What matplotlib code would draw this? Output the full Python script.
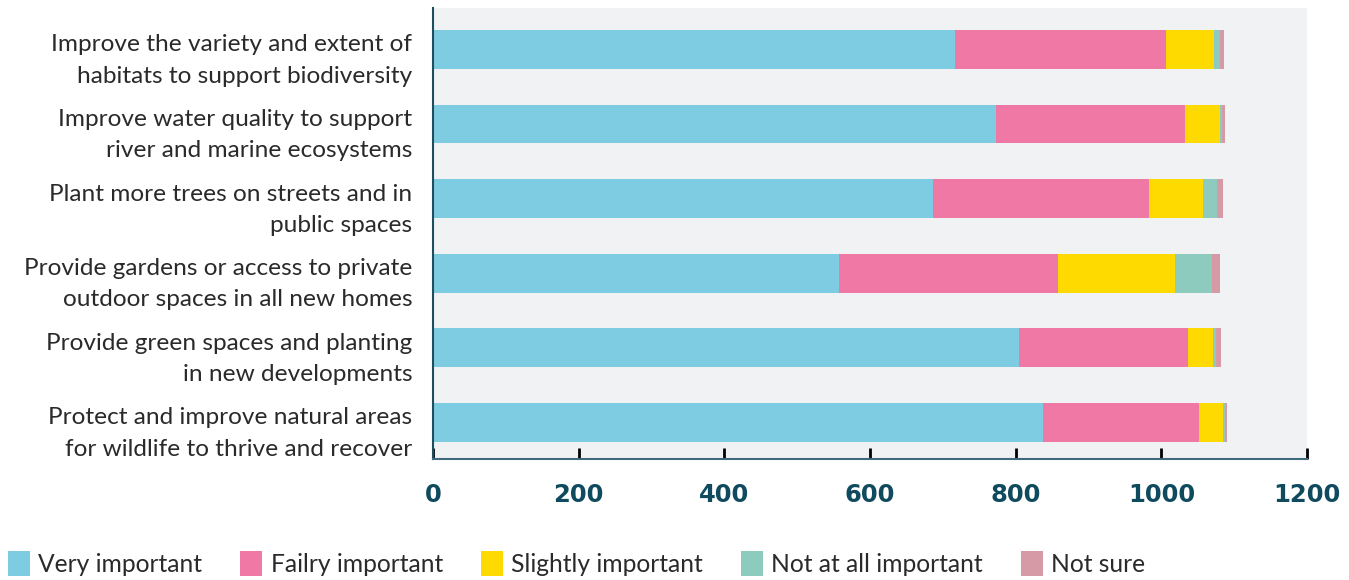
import numpy as np
import matplotlib
matplotlib.use('Agg')
import matplotlib.pyplot as plt
import matplotlib.transforms as mtransforms
from matplotlib.patches import Patch

categories = ["Improve the variety and extent of\nhabitats to support biodiversity",
              "Improve water quality to support\nriver and marine ecosystems",
              "Plant more trees on streets and in\npublic spaces",
              "Provide gardens or access to private\noutdoor spaces in all new homes",
              "Provide green spaces and planting\nin new developments",
              "Protect and improve natural areas\nfor wildlife to thrive and recover"]

very_important = [717, 773, 687, 557, 805, 837]
fairly_important = [290, 260, 296, 301, 232, 215]
slightly_important = [65, 47, 74, 161, 34, 33]
not_at_all_important = [9, 3, 19, 51, 4, 3]
not_sure = [5, 5, 8, 11, 7, 2]

series_names = ["Very important", "Failry important", "Slightly important",
                "Not at all important", "Not sure"]
colors = ["#7ecce2", "#ef78a4", "#ffda00", "#8ccbbe", "#d59aa5"]
xticks = [0, 200, 400, 600, 800, 1000, 1200]

plt.rcParams['font.family'] = ['Lato', 'DejaVu Sans']

fig = plt.figure(figsize=(13.49, 5.80), dpi=100)
ax = fig.add_axes([433 / 1349, 121 / 580, 874 / 1349, 451 / 580])
ax.set_facecolor('#f1f2f4')

y = np.arange(len(categories))
left = np.zeros(len(categories))
all_series = [very_important, fairly_important, slightly_important,
              not_at_all_important, not_sure]
for vals, col in zip(all_series, colors):
    ax.barh(y, vals, left=left, height=0.52, color=col, linewidth=0)
    left += np.array(vals)

ax.set_xlim(0, 1200)
ax.set_ylim(5.49, -0.556)
ax.set_xticks(xticks)
ax.set_xticklabels([str(t) for t in xticks], fontsize=17.5, fontweight='bold',
                   color='#0f4a5e', family='DejaVu Sans')
ax.set_yticks(y)
ax.set_yticklabels(categories, fontsize=17.6, color='#2a2a2a', linespacing=1.6)
ax.tick_params(axis='x', direction='in', length=8, width=2, color='black', pad=17)
ax.tick_params(axis='y', length=0, pad=15)

# labels sit a little below the bar centres in the original
shift = mtransforms.ScaledTranslation(0, -4 / 100, fig.dpi_scale_trans)
for lbl in ax.get_yticklabels():
    lbl.set_transform(lbl.get_transform() + shift)

for s in ['top', 'right']:
    ax.spines[s].set_visible(False)
ax.spines['left'].set_color('#1f4e5f')
ax.spines['left'].set_linewidth(1.5)
ax.spines['bottom'].set_color('#3e6a7b')
ax.spines['bottom'].set_linewidth(1.5)

handles = [Patch(facecolor=c, edgecolor='none', label=n)
           for c, n in zip(colors, series_names)]
fig.legend(handles=handles, loc='lower left', bbox_to_anchor=(8 / 1349, 4 / 580),
           ncol=5, frameon=False, fontsize=17.7, labelcolor='#2a2a2a',
           borderaxespad=0, borderpad=0,
           handlelength=0.9, handleheight=1.15, handletextpad=0.33,
           columnspacing=1.55)

fig.savefig('out.png', dpi=100)
